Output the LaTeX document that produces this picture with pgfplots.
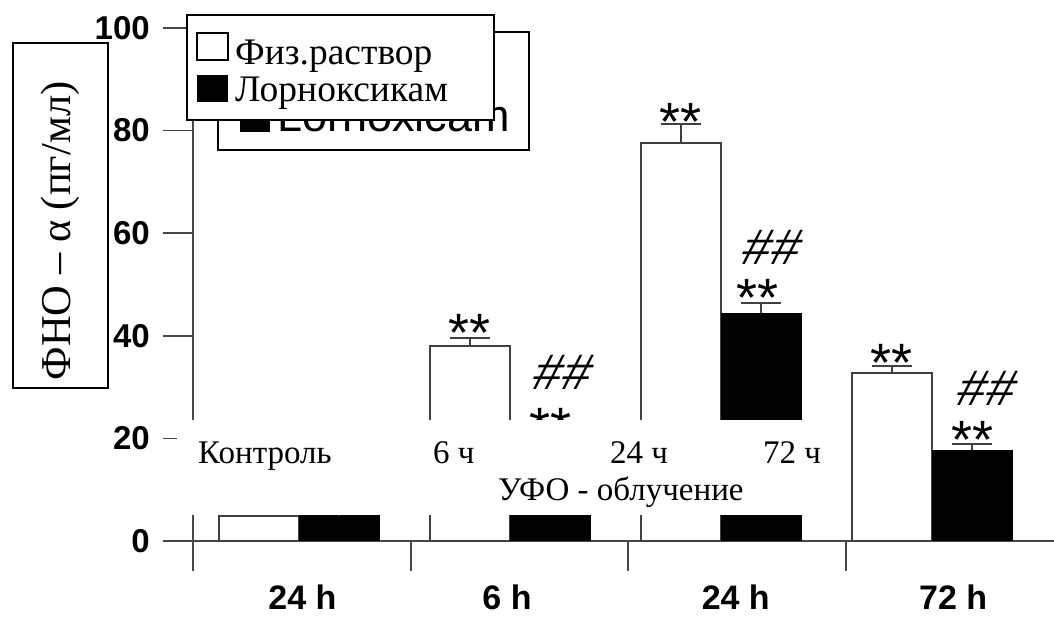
\documentclass[border=0pt]{standalone}
\usepackage{fontspec}
\setmainfont{Liberation Serif}
\newfontfamily\arial{Liberation Sans}
\newfontfamily\arialslant[FakeSlant=0.3]{Liberation Sans}
\usepackage{pgfplots}
\usepackage{pgfplotstable}
\pgfplotsset{compat=1.18}

% saline (white bars); x = group index - 0.19
\pgfplotstableread{
x y e
-0.19 4.9 1.0
0.81 38.0 1.6
1.81 77.6 3.7
2.81 32.7 1.4
}\saline
% lornoxicam (black bars); x = group index + 0.19
\pgfplotstableread{
x y e
0.19 4.9 1.0
1.19 19.0 1.5
2.19 44.4 2.0
3.19 17.7 1.2
}\lornox

\begin{document}
\begin{tikzpicture}
\useasboundingbox (0pt,0pt) rectangle (1054pt,617pt);
\begin{axis}[
  at={(299pt,76pt)}, anchor=origin,
  x=211pt, y=5.13pt,
  xmin=-0.5024, xmax=3.62,
  ymin=0, ymax=100,
  axis x line*=bottom, axis y line*=left,
  axis line style={draw=black!72, line width=1.6pt, -},
  clip=false,
  ytick={0,20,...,100},
  xtick={-0.5024,0.531,1.559,2.592},
  xticklabels={},
  tick align=outside,
  major tick length=30pt,
  tick style={draw=black!72, line width=1.6pt},
  yticklabel style={font=\arial\bfseries\fontsize{33}{33}\selectfont, inner xsep=0pt, xshift=-13pt},
  /pgf/number format/assume math mode=true,
  extra x ticks={0.0166,0.986,2.07,3.10},
  extra x tick labels={24 h,6 h,24 h,72 h},
  extra x tick style={major tick length=0pt, tick style={draw=none},
    xticklabel style={font=\arial\bfseries\fontsize{34}{34}\selectfont, anchor=center, yshift=-56pt}},
  error bars/y dir=plus,
  error bars/y explicit,
  error bars/error bar style={draw=black!75, line width=2pt},
  error bars/error mark options={rotate=90, mark size=20pt, draw=black!75, line width=2pt},
]
\addplot[ybar, bar width=80pt, bar shift=0pt, fill=white, draw=black!75, line width=2pt]
  table[x=x, y=y, y error=e] {\saline};
\addplot[ybar, bar width=80pt, bar shift=0pt, fill=black, draw=black, line width=1pt]
  table[x=x, y=y, y error=e] {\lornox};

% significance marks
\begin{scope}[every node/.style={inner sep=0pt}]
\node[anchor=north, font=\arial\fontsize{54}{54}\selectfont] at (axis cs:0.81,44.25) {**};
\node[anchor=north, font=\arial\fontsize{54}{54}\selectfont] at (axis cs:1.19,25.9) {**};
\node[anchor=north, font=\arial\fontsize{54}{54}\selectfont] at (axis cs:1.81,85.4) {**};
\node[anchor=north, font=\arial\fontsize{54}{54}\selectfont] at (axis cs:2.175,51.1) {**};
\node[anchor=north, font=\arial\fontsize{54}{54}\selectfont] at (axis cs:2.806,38.4) {**};
\node[anchor=north, font=\arial\fontsize{54}{54}\selectfont] at (axis cs:3.19,23.4) {**};
\node[font=\arialslant\fontsize{50}{50}\selectfont] at (axis cs:1.232,32.9) {\#\kern1pt\#};
\node[font=\arialslant\fontsize{50}{50}\selectfont] at (axis cs:2.223,57.3) {\#\kern1pt\#};
\node[font=\arialslant\fontsize{50}{50}\selectfont] at (axis cs:3.242,29.8) {\#\kern1pt\#};
\end{scope}
% left extension of the x axis line
\draw[draw=black!72, line width=1.6pt] (axis cs:-0.6445,0) -- (axis cs:-0.5024,0);
\end{axis}

% original (English) legend, mostly hidden
\draw[line width=2.5pt, fill=white] (218pt,585pt) rectangle (529pt,467pt);
\fill (240pt,485pt) rectangle (270pt,515pt);
\node[anchor=base west, inner sep=0pt, font=\arial\fontsize{45}{45}\selectfont] at (277pt,485pt) {Lornoxicam};

% Russian legend
\draw[line width=1.5pt, fill=white] (187pt,602pt) rectangle (494pt,497pt);
\draw[line width=1.5pt] (197pt,584pt) rectangle (228pt,557pt);
\fill (197pt,542pt) rectangle (228pt,515pt);
\node[anchor=base west, inner sep=0pt, font=\fontsize{37.5}{37.5}\selectfont] at (235pt,552pt) {Физ.раствор};
\node[anchor=base west, inner sep=0pt, font=\fontsize{37.5}{37.5}\selectfont] at (235pt,515pt) {Лорноксикам};

% y label in a box
\draw[line width=1.5pt] (13pt,229pt) rectangle (108pt,574pt);
\node[rotate=90, inner sep=0pt, font=\fontsize{42.5}{42.5}\selectfont] at (60pt,386pt) {ФНО – α (пг/мл)};

% overlay with Russian category labels
\fill[white] (177pt,102pt) rectangle (832pt,197pt);
\begin{scope}[every node/.style={anchor=base west, inner sep=0pt, font=\fontsize{33}{33}\selectfont}]
\node at (198pt,153pt) {Контроль};
\node at (433pt,153pt) {6 ч};
\node at (610pt,153pt) {24 ч};
\node at (763pt,153pt) {72 ч};
\node at (498pt,116pt) {УФО - облучение};
\end{scope}
\end{tikzpicture}
\end{document}
